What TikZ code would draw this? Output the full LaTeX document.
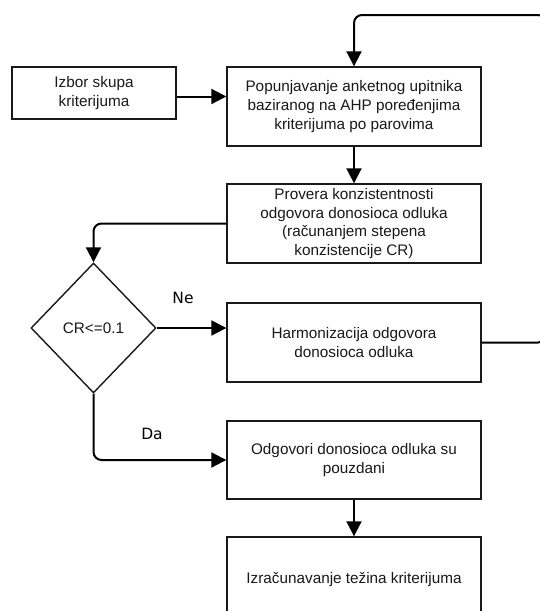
\documentclass[tikz,border=0pt]{standalone}
\usepackage{fontspec}
\setmainfont{Liberation Sans}
\newfontfamily\labfont{DejaVu Sans}
\usetikzlibrary{shapes.geometric,arrows.meta}
\begin{document}
\begin{tikzpicture}[x=1pt,y=-1pt,
  procbox/.style={draw=black!90, line width=1.4pt, fill=white, rectangle, align=center,
    inner sep=0pt, minimum width=254pt, minimum height=79pt,
    font=\fontsize{15.3}{18.7}\selectfont, text=black!90},
  decbox/.style={draw=black!90, line width=1.4pt, fill=white, diamond, align=center,
    inner sep=0pt, minimum width=125pt, minimum height=130pt,
    font=\fontsize{15.3}{18.7}\selectfont, text=black!90},
  conn/.style={draw=black, line width=2pt, rounded corners=8pt},
  arr/.style={conn, -{Triangle[length=15pt,width=15pt]}},
  lab/.style={font=\labfont\fontsize{15.5}{18}\selectfont, text=black}]
\useasboundingbox (0,0) rectangle (540,611);
\node[procbox, minimum width=164pt, minimum height=52pt] (izbor) at (94,93) {Izbor skupa\\kriterijuma};
\node[procbox] (b1) at (354,106.5) {Popunjavanje anketnog upitnika\\baziranog na AHP poređenjima\\kriterijuma po parovima};
\node[procbox] (b2) at (354,223.5) {Provera konzistentnosti\\odgovora donosioca odluka\\(računanjem stepena\\konzistencije CR)};
\node[decbox] (dia) at (93.5,328) {CR<=0.1};
\node[procbox] (harm) at (354,342.5) {Harmonizacija odgovora\\donosioca odluka};
\node[procbox, minimum height=78pt] (b3) at (354,460) {Odgovori donosioca odluka su\\pouzdani};
\node[procbox, minimum height=86pt] (b4) at (354,580) {Izračunavanje težina kriterijuma};
\node[lab] (ne) at (183,298) {Ne};
\node[lab] (da) at (152,434) {Da};
\coordinate (r1) at (546,342.5);
\coordinate (r2) at (546,15);
\coordinate (r3) at (354,15);
\draw[arr] ([yshift=-3.5pt]izbor.east) -- ([yshift=-3.5pt]izbor.east -| b1.west);
\draw[arr] (b1.south) -- (b2.north);
\draw[arr] (b2.west) -| (dia.north);
\draw[arr] (dia.east) -- (dia.east -| harm.west);
\draw[arr] (dia.south) |- (b3.west);
\draw[arr] (b3.south) -- (b4.north);
\draw[arr] (harm.east) -- (r1) -- (r2) -- (r3) -- (b1.north);
\end{tikzpicture}
\end{document}
